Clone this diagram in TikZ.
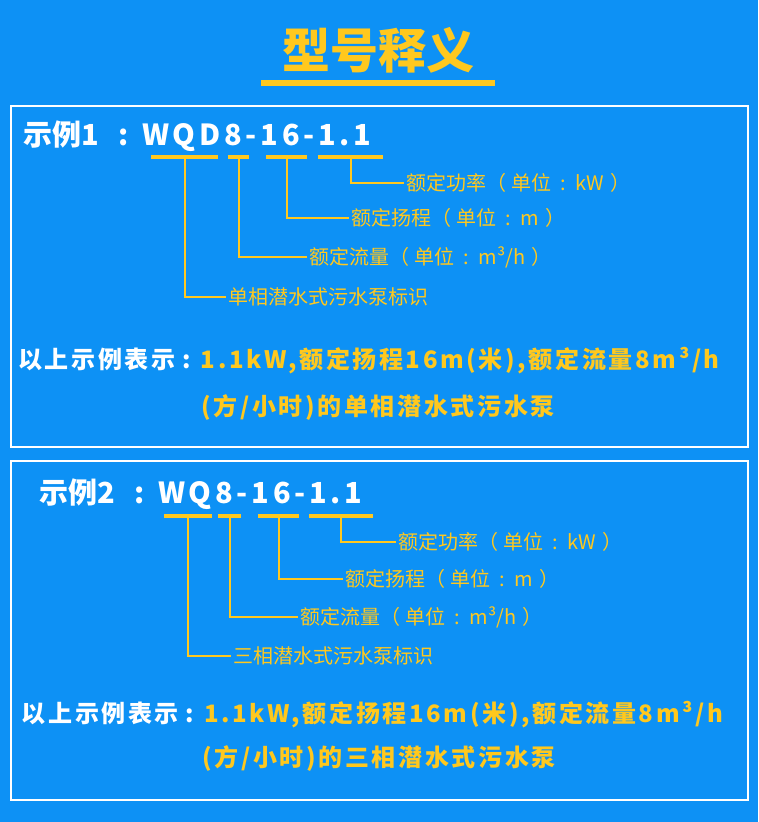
\documentclass[tikz,border=0pt]{standalone}
\usepackage{fontspec}
\setmainfont{Noto Sans CJK SC}
\newfontfamily\sumfont[LetterSpace=11]{Noto Sans CJK SC}
\definecolor{bg}{RGB}{13,145,245}
\definecolor{yel}{RGB}{255,200,30}
\newcommand\LP{（\kern5pt}
\newcommand\RP{\kern6pt）}
\newcommand\CL{\kern9.5pt:\kern9.5pt}
\newcommand\HC{\kern20pt:\kern13pt}
\newcommand\SC{\kern7pt:\kern10pt}
\tikzset{
  ubar/.style={fill=yel, inner sep=0pt, minimum height=3.5pt},
  conn/.style={draw=yel, line width=2pt},
  lbl/.style={text=yel, font=\fontsize{20}{20}\selectfont, anchor=west, inner ysep=0pt, inner xsep=2pt},
  head/.style={text=white, font=\bfseries\fontsize{29}{29}\selectfont, anchor=west, inner sep=0pt},
  summ/.style={text=yel, font=\sumfont\bfseries\fontsize{24}{24}\selectfont, inner sep=0pt},
  frame/.style={draw=white, line width=2pt},
}
\newcommand\LS[1]{{\addfontfeature{LetterSpace=13}#1}}
\begin{document}
\begin{tikzpicture}[x=1pt,y=-1pt]
\fill[bg] (0,0) rectangle (758,822);
\useasboundingbox (0,0) rectangle (758,822);
% title
\node[text=yel, font=\bfseries\fontsize{48}{48}\selectfont, inner sep=0pt] (title) at (378,50) {型号释义};
\node[ubar, minimum width=234pt, minimum height=6pt] (tbar) at (378,83) {};
% frames
\draw[frame] (11,106) rectangle (748,447);
\draw[frame] (11,461) rectangle (748,800);
% ---------- example 1
\node[head] (h1) at (23,136) {示例1\HC\LS{WQD8-16-1.1}};
\node[ubar, minimum width=67pt] (a1) at (184.5,157) {};
\node[ubar, minimum width=21pt] (a2) at (238.5,157) {};
\node[ubar, minimum width=41pt] (a3) at (286.5,157) {};
\node[ubar, minimum width=65pt] (a4) at (350.5,157) {};
\node[lbl] (p4) at (404,183) {额定功率\LP 单位\CL kW\RP};
\node[lbl] (p3) at (349,218) {额定扬程\LP 单位\CL m\RP};
\node[lbl] (p2) at (307,257) {额定流量\LP 单位\CL m³/h\RP};
\node[lbl] (p1) at (226,297) {单相潜水式污水泵标识};
\draw[conn] (a4.south) |- (p4.west);
\draw[conn] (a3.south) |- (p3.west);
\draw[conn] (a2.south) |- (p2.west);
\draw[conn] (a1.south) |- (p1.west);
\node[summ] (s1) at (369,361) {{\color{white}以上示例表示\SC}1.1kW,额定扬程16m(米),额定流量8m³/h};
\node[summ] (s2) at (378,407) {(方/小时)的单相潜水式污水泵};
% ---------- example 2
\node[head] (h2) at (39,494) {示例2\HC\LS{WQ8-16-1.1}};
\node[ubar, minimum width=48pt] (b1) at (188,516) {};
\node[ubar, minimum width=23pt] (b2) at (229.5,516) {};
\node[ubar, minimum width=41pt] (b3) at (278.5,516) {};
\node[ubar, minimum width=64pt] (b4) at (341,516) {};
\node[lbl] (q4) at (396,542) {额定功率\LP 单位\CL kW\RP};
\node[lbl] (q3) at (343,579) {额定扬程\LP 单位\CL m\RP};
\node[lbl] (q2) at (298,617) {额定流量\LP 单位\CL m³/h\RP};
\node[lbl] (q1) at (231,656) {三相潜水式污水泵标识};
\draw[conn] (b4.south) |- (q4.west);
\draw[conn] (b3.south) |- (q3.west);
\draw[conn] (b2.south) |- (q2.west);
\draw[conn] (b1.south) |- (q1.west);
\node[summ] (r1) at (372.5,715) {{\color{white}以上示例表示\SC}1.1kW,额定扬程16m(米),额定流量8m³/h};
\node[summ] (r2) at (379,758) {(方/小时)的三相潜水式污水泵};
\end{tikzpicture}
\end{document}
